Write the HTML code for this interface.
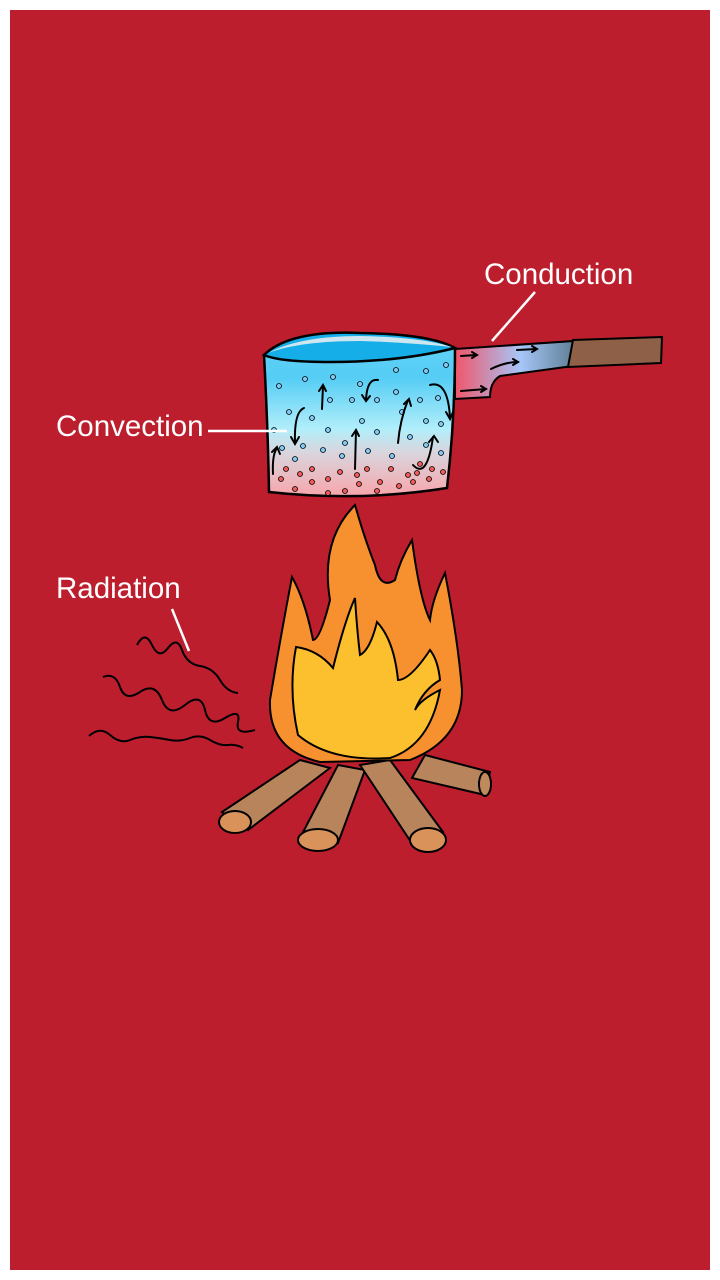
<!DOCTYPE html>
<html><head><style>
html,body{margin:0;padding:0;background:#fff;}
svg{display:block;}
text{font-family:"Liberation Sans",sans-serif;fill:#fff;font-size:29.5px;}
</style></head><body>
<svg width="720" height="1280" viewBox="0 0 720 1280" xmlns="http://www.w3.org/2000/svg">
<defs>
<linearGradient id="pg" x1="0" y1="0" x2="0" y2="1">
<stop offset="0" stop-color="#5fd0f6"/><stop offset="0.2" stop-color="#55cdf5"/>
<stop offset="0.55" stop-color="#b2eefa"/><stop offset="0.7" stop-color="#d8d6de"/>
<stop offset="1" stop-color="#f7a6ab"/></linearGradient>
<linearGradient id="hg" x1="0" y1="0" x2="1" y2="0">
<stop offset="0" stop-color="#f0566a"/><stop offset="0.55" stop-color="#a6c6f8"/><stop offset="1" stop-color="#5f7f95"/></linearGradient>
</defs>
<rect x="10" y="10" width="700" height="1260" fill="#bd1e2d"/>
<path d="M455 349 L574 341 L573 366 L500 376 Q490 382 490 397 L455 399 Z" fill="url(#hg)" stroke="#000" stroke-width="2"/>
<path d="M573 340 L662 337 L661 363 L568 367 Z" fill="#8f6048" stroke="#000" stroke-width="2"/>
<path d="M264 355 Q268 430 269 492 Q360 502 447 488 Q455 420 455 348 Z" fill="url(#pg)" stroke="#000" stroke-width="2.5"/>
<path d="M264 355 Q290 330 360 333 Q430 334 455 348 Q400 362 330 362 Q280 362 264 355Z" fill="#15aee9" stroke="#000" stroke-width="2.5"/>
<path d="M268 353 Q300 336 360 336 Q420 337 452 347 Q400 342 360 341 Q300 341 268 353Z" fill="#cde6f0"/>
<g fill="#7fcaf5" stroke="#000" stroke-width="0.8">
<circle cx="279" cy="386" r="2.5"/><circle cx="305" cy="379" r="2.5"/><circle cx="333" cy="377" r="2.5"/><circle cx="396" cy="370" r="2.5"/><circle cx="426" cy="371" r="2.5"/><circle cx="446" cy="365" r="2.5"/>
<circle cx="360" cy="384" r="2.5"/><circle cx="330" cy="400" r="2.5"/><circle cx="352" cy="400" r="2.5"/><circle cx="377" cy="400" r="2.5"/><circle cx="396" cy="392" r="2.5"/><circle cx="420" cy="400" r="2.5"/><circle cx="438" cy="398" r="2.5"/>
<circle cx="289" cy="412" r="2.5"/><circle cx="312" cy="418" r="2.5"/><circle cx="362" cy="421" r="2.5"/><circle cx="402" cy="412" r="2.5"/><circle cx="426" cy="421" r="2.5"/><circle cx="441" cy="424" r="2.5"/>
<circle cx="274" cy="430" r="2.5"/><circle cx="328" cy="430" r="2.5"/><circle cx="377" cy="432" r="2.5"/><circle cx="410" cy="437" r="2.5"/>
<circle cx="282" cy="448" r="2.5"/><circle cx="303" cy="446" r="2.5"/><circle cx="323" cy="450" r="2.5"/><circle cx="345" cy="443" r="2.5"/><circle cx="368" cy="451" r="2.5"/><circle cx="426" cy="445" r="2.5"/><circle cx="441" cy="453" r="2.5"/>
<circle cx="295" cy="459" r="2.5"/><circle cx="342" cy="456" r="2.5"/><circle cx="392" cy="456" r="2.5"/>
</g>
<g fill="#f25a5a" stroke="#000" stroke-width="0.8">
<circle cx="286" cy="469" r="2.5"/><circle cx="312" cy="469" r="2.5"/><circle cx="340" cy="472" r="2.5"/><circle cx="367" cy="469" r="2.5"/><circle cx="391" cy="469" r="2.5"/><circle cx="420" cy="464" r="2.5"/><circle cx="432" cy="469" r="2.5"/><circle cx="443" cy="472" r="2.5"/>
<circle cx="300" cy="474" r="2.5"/><circle cx="357" cy="475" r="2.5"/><circle cx="408" cy="475" r="2.5"/><circle cx="417" cy="473" r="2.5"/>
<circle cx="281" cy="479" r="2.5"/><circle cx="312" cy="482" r="2.5"/><circle cx="328" cy="479" r="2.5"/><circle cx="359" cy="484" r="2.5"/><circle cx="380" cy="482" r="2.5"/><circle cx="413" cy="482" r="2.5"/><circle cx="429" cy="479" r="2.5"/>
<circle cx="295" cy="489" r="2.5"/><circle cx="328" cy="493" r="2.5"/><circle cx="345" cy="491" r="2.5"/><circle cx="377" cy="491" r="2.5"/><circle cx="399" cy="486" r="2.5"/>
</g>
<g fill="none" stroke="#000" stroke-width="2" stroke-linecap="round">
<path d="M273 474 Q272 455 277 448"/><path d="M272 452 l5 -5 l3 7"/>
<path d="M322 409 L323 386"/><path d="M319 391 l4 -6 l3 6"/>
<path d="M304 408 Q294 412 295 443"/><path d="M291 437 l4 7 l4 -7"/>
<path d="M355 469 L356 430"/><path d="M352 436 l4 -6 l3 6"/>
<path d="M378 380 Q367 378 366 400"/><path d="M362 395 l4 6 l4 -5"/>
<path d="M398 443 Q400 420 408 400"/><path d="M404 404 l5 -5 l2 7"/>
<path d="M430 385 Q448 380 450 418"/><path d="M446 412 l4 7 l3 -7"/>
<path d="M413 465 Q427 480 433 437"/><path d="M429 442 l5 -6 l4 6"/>
<path d="M461 356 L476 355"/><path d="M472 352 l5 3 l-5 3"/>
<path d="M517 350 L536 349"/><path d="M532 346 l5 3 l-5 3"/>
<path d="M491 369 Q505 362 518 362"/><path d="M513 359 l5 3 l-5 3"/>
<path d="M461 391 L486 389"/><path d="M481 386 l5 3 l-5 3"/>
</g>
<g stroke="#000" stroke-width="2" fill="#b8845c">
<path d="M425 755 L490 772 L485 795 L412 778 Z"/>
<ellipse cx="485" cy="784" rx="6" ry="12" fill="#c08a5c"/>
<path d="M300 760 L330 768 L248 830 L222 812 Z"/>
<ellipse cx="235" cy="822" rx="16" ry="11" fill="#d9925a"/>
<path d="M338 765 L365 770 L338 843 L300 838 Z"/>
<ellipse cx="318" cy="840" rx="20" ry="11" fill="#d9925a"/>
<path d="M360 765 L390 760 L443 832 L413 845 Z"/>
<ellipse cx="428" cy="840" rx="18" ry="12" fill="#d9925a"/>
</g>
<path d="M355 505 Q320 540 330 600 Q320 640 313 640 Q305 600 292 577 Q280 640 270 700 Q268 750 320 762 L410 760 Q462 740 462 690 Q458 640 445 573 Q432 600 430 620 Q420 600 412 540 Q400 560 395 580 Q380 590 375 565 Q365 540 355 505 Z" fill="#f7902f" stroke="#000" stroke-width="2"/>
<path d="M355 598 Q345 620 333 668 Q318 650 296 647 Q288 690 298 735 Q330 762 390 758 Q430 745 440 690 Q420 700 415 710 Q423 690 440 680 Q438 660 430 650 Q410 680 398 680 Q394 640 377 622 Q370 650 360 655 Q357 630 355 598 Z" fill="#fcc02e" stroke="#000" stroke-width="2"/>
<g fill="none" stroke="#000" stroke-width="2">
<path d="M137 645 Q145 630 152 645 T168 648 T182 650 T200 666 T220 680 T238 693"/>
<path d="M103 677 Q115 672 120 687 T140 692 T162 700 T185 705 T205 710 T225 718 T238 722 T255 730"/>
<path d="M89 736 Q100 726 110 735 T130 740 T150 737 T170 740 T190 738 T210 740 T228 745 T243 748"/>
</g>
<text x="484" y="284">Conduction</text>
<line x1="535" y1="292" x2="492" y2="341" stroke="#fff" stroke-width="2.5"/>
<text x="56" y="436">Convection</text>
<line x1="208" y1="431" x2="287" y2="431" stroke="#fff" stroke-width="2.5"/>
<text x="56" y="598">Radiation</text>
<line x1="172" y1="609" x2="189" y2="651" stroke="#fff" stroke-width="2.5"/>
</svg>
</body></html>
